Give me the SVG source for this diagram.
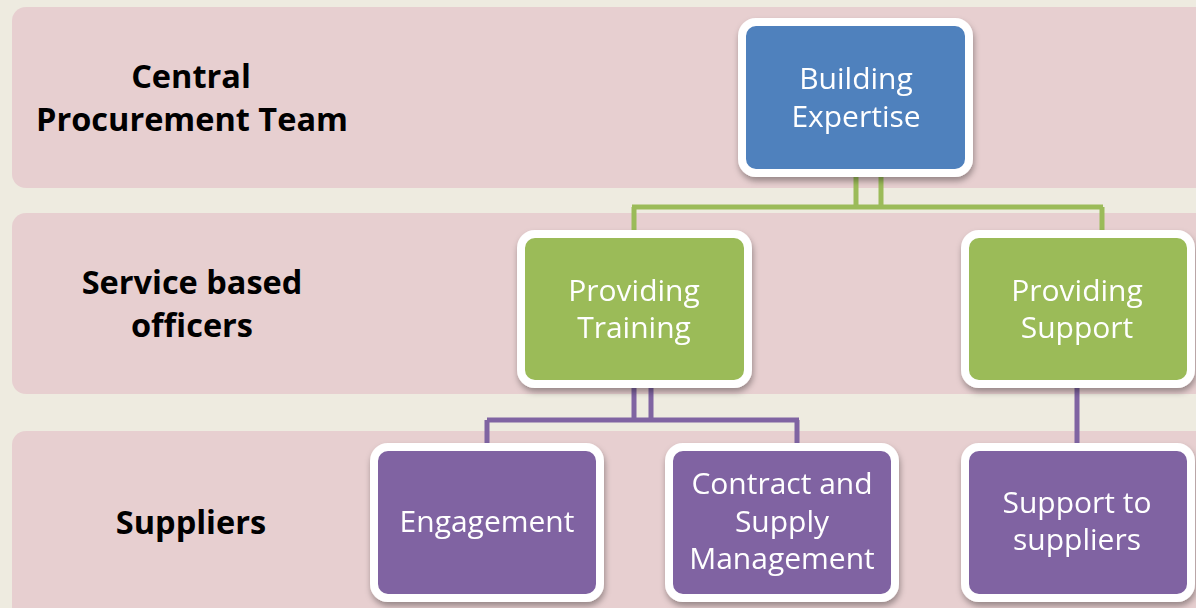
<svg xmlns="http://www.w3.org/2000/svg" width="1196" height="608" viewBox="0 0 1196 608">
<style>
.band{fill:#E7CFD0}
.lbl{font-family:"Open Sans","Liberation Sans",sans-serif;font-weight:bold;font-size:32.5px;fill:#000;text-anchor:middle}
.box{stroke:#fff;stroke-width:8}
.blue{fill:#4F81BD}
.green{fill:#9BBB59}
.purple{fill:#8064A2}
.t{font-family:"Open Sans","Liberation Sans",sans-serif;font-size:30px;fill:#fff;text-anchor:middle}
.cg{stroke:#9BBB59;stroke-width:5;fill:none}
.cp{stroke:#8064A2;stroke-width:5;fill:none}
</style>
<defs>
<filter id="sh" x="-10%" y="-10%" width="120%" height="130%">
<feDropShadow dx="1" dy="4" stdDeviation="3" flood-color="#000" flood-opacity="0.35"/>
</filter>
</defs>
<rect width="1196" height="608" fill="#EEEBE0"/>
<g id="bands">
<rect class="band" x="12" y="7" width="1200" height="181" rx="14"/>
<rect class="band" x="12" y="213" width="1200" height="181" rx="14"/>
<rect class="band" x="12" y="431" width="1200" height="200" rx="14"/>
<text class="lbl" x="191" y="88">Central</text>
<text class="lbl" x="192" y="131">Procurement Team</text>
<text class="lbl" x="192" y="294">Service based</text>
<text class="lbl" x="192" y="337">officers</text>
<text class="lbl" x="191" y="534">Suppliers</text>
</g>
<g id="connectors">
<path class="cg" d="M856,174V207M881,174V207M632,207H1103M634,207V234M1102,207V234"/>
<path class="cp" d="M634,384V420M651,384V420M487,420H799M487,420V447M797,420V447M1077,384V447"/>
</g>
<g id="building-expertise" filter="url(#sh)">
<rect class="box blue" x="742" y="22" width="227" height="151" rx="14"/>
<text class="t" x="856" y="89">Building</text>
<text class="t" x="856" y="127">Expertise</text>
</g>
<g id="providing-training" filter="url(#sh)">
<rect class="box green" x="521" y="234" width="227" height="150" rx="14"/>
<text class="t" x="634" y="301">Providing</text>
<text class="t" x="634" y="338">Training</text>
</g>
<g id="providing-support" filter="url(#sh)">
<rect class="box green" x="965" y="234" width="226" height="150" rx="14"/>
<text class="t" x="1077" y="301">Providing</text>
<text class="t" x="1077" y="338">Support</text>
</g>
<g id="engagement" filter="url(#sh)">
<rect class="box purple" x="374" y="447" width="226" height="151" rx="14"/>
<text class="t" x="487" y="532">Engagement</text>
</g>
<g id="contract-supply" filter="url(#sh)">
<rect class="box purple" x="669" y="447" width="226" height="151" rx="14"/>
<text class="t" x="782" y="494">Contract and</text>
<text class="t" x="782" y="532">Supply</text>
<text class="t" x="782" y="569">Management</text>
</g>
<g id="support-suppliers" filter="url(#sh)">
<rect class="box purple" x="965" y="447" width="226" height="151" rx="14"/>
<text class="t" x="1077" y="513">Support to</text>
<text class="t" x="1077" y="550">suppliers</text>
</g>
</svg>
